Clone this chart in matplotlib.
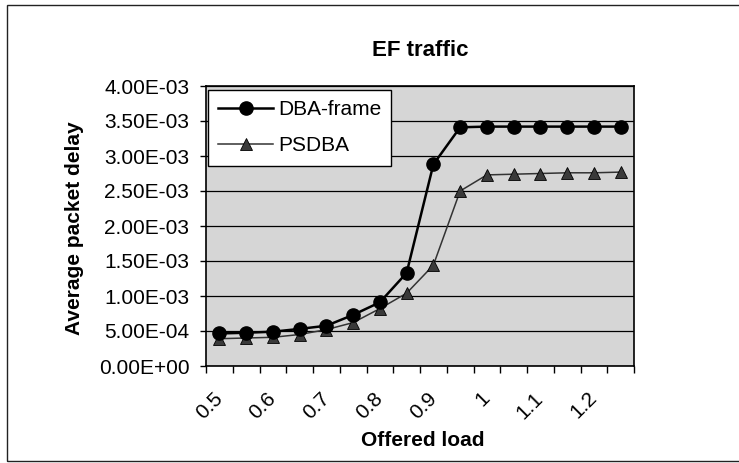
import matplotlib
matplotlib.use("Agg")
import matplotlib.pyplot as plt
from matplotlib.patches import Rectangle

plt.rcParams['font.family'] = ['Liberation Sans', 'DejaVu Sans']

loads = ["0.5", "0.55", "0.6", "0.65", "0.7", "0.75", "0.8", "0.85",
         "0.9", "0.95", "1", "1.05", "1.1", "1.15", "1.2", "1.25"]
dba_frame = [4.65e-4, 4.75e-4, 4.9e-4, 5.3e-4, 5.75e-4, 7.3e-4, 9.1e-4, 1.33e-3,
             2.88e-3, 3.41e-3, 3.42e-3, 3.42e-3, 3.42e-3, 3.42e-3, 3.42e-3, 3.42e-3]
psdba = [3.9e-4, 4.0e-4, 4.1e-4, 4.5e-4, 5.2e-4, 6.2e-4, 8.2e-4, 1.04e-3,
         1.44e-3, 2.50e-3, 2.73e-3, 2.74e-3, 2.75e-3, 2.76e-3, 2.76e-3, 2.77e-3]
yticks = [0.0, 5e-4, 1e-3, 1.5e-3, 2e-3, 2.5e-3, 3e-3, 3.5e-3, 4e-3]
ytick_labels = ["0.00E+00", "5.00E-04", "1.00E-03", "1.50E-03", "2.00E-03",
                "2.50E-03", "3.00E-03", "3.50E-03", "4.00E-03"]

W, H = 739, 463
fig = plt.figure(figsize=(W / 100, H / 100), dpi=100)
ax = fig.add_axes([206 / W, 1 - 366 / H, (634 - 206) / W, (366 - 86) / H])
ax.set_facecolor('#d6d6d6')

x = list(range(len(loads)))
ax.plot(x, dba_frame, color='black', lw=1.8, marker='o', ms=9.5,
        mfc='black', mec='black', label='DBA-frame', zorder=4)
ax.plot(x, psdba, color='#333333', lw=1.1, marker='^', ms=9,
        mfc='#3a3a3a', mec='black', mew=0.6, label='PSDBA', zorder=3)

ax.set_xlim(-0.5, len(loads) - 0.5)
ax.set_ylim(0, 4e-3)
ax.set_yticks(yticks)
ax.set_yticklabels(ytick_labels, fontsize=15)
ax.yaxis.grid(True, color='black', lw=0.9)
ax.set_axisbelow(True)

ax.set_xticks([i - 0.5 for i in range(len(loads) + 1)])
ax.set_xticklabels([])
ax.set_xticks(x[::2], minor=True)
ax.set_xticklabels(loads[::2], minor=True, rotation=45, ha='right', va='center',
                   rotation_mode='anchor', fontsize=15)
ax.tick_params(axis='x', which='major', direction='out', length=5, width=1)
ax.tick_params(axis='x', which='minor', length=0, pad=21)
ax.tick_params(axis='y', direction='out', length=4, width=1, pad=8)
for s in ax.spines.values():
    s.set_linewidth(1.2)
    s.set_color('black')

fig.text(420 / W, 1 - 51 / H, 'EF traffic', ha='center', va='center',
         fontsize=16, fontweight='bold')
fig.text(75 / W, 1 - 228 / H, 'Average packet delay', ha='center', va='center',
         rotation=90, fontsize=15, fontweight='bold')
fig.text(423 / W, 1 - 441 / H, 'Offered load', ha='center', va='center',
         fontsize=15, fontweight='bold')

leg = ax.legend(loc='upper left', bbox_to_anchor=(208 / W, 1 - 90 / H),
                bbox_transform=fig.transFigure, fontsize=15, frameon=True,
                fancybox=False, borderpad=0.5, handlelength=2.6,
                handletextpad=0.25, labelspacing=0.8, borderaxespad=0)
leg.get_frame().set_edgecolor('black')
leg.get_frame().set_linewidth(1.0)
leg.get_frame().set_facecolor('white')
leg.get_frame().set_alpha(1)

fig.patches.append(Rectangle((7 / W, 2 / H), 1.2, 1 - 7 / H, transform=fig.transFigure,
                             fill=False, edgecolor='#222222', lw=1.0))

fig.savefig('out.png', dpi=100, facecolor='white')
